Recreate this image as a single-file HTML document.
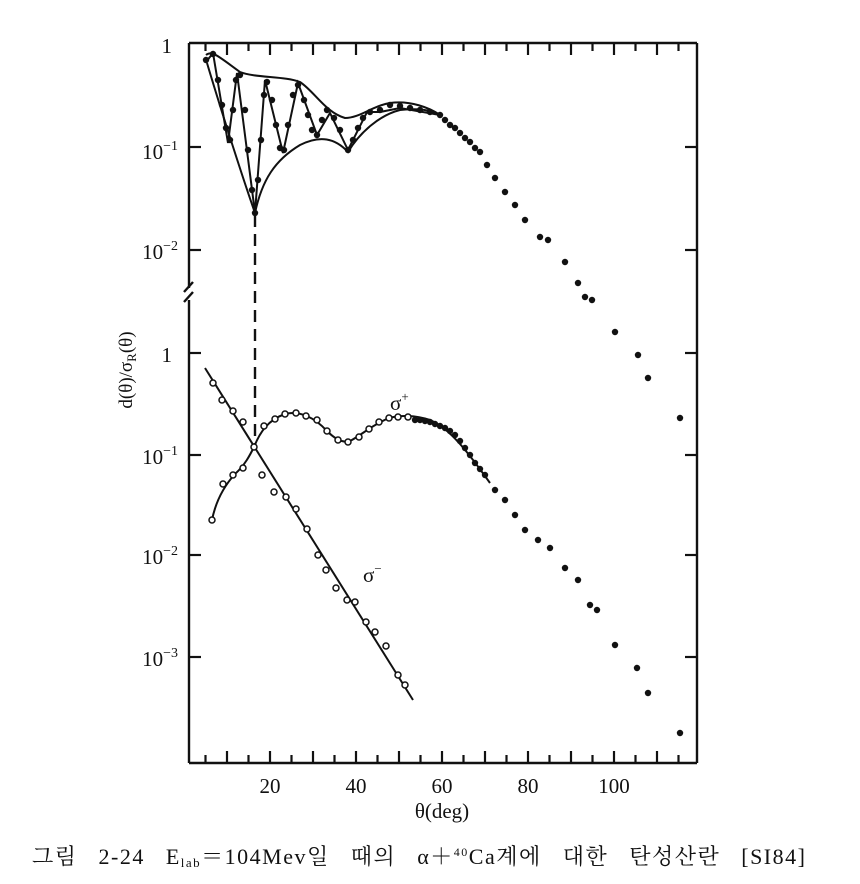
<!DOCTYPE html>
<html><head><meta charset="utf-8"><style>
html,body{margin:0;padding:0;background:#fff;}
svg{display:block;}
text{font-family:"Liberation Serif","Noto Serif CJK SC",serif;fill:#111;}
</style></head><body>
<svg id="s" width="860" height="884" viewBox="0 0 860 884" xmlns="http://www.w3.org/2000/svg">
<rect width="860" height="884" fill="#fff"/>
<g stroke="#111" stroke-width="2.4" fill="none">
<line x1="189" y1="43" x2="697" y2="43"/>
<line x1="189" y1="763" x2="697" y2="763"/>
<line x1="697" y1="43" x2="697" y2="763"/>
<line x1="189" y1="43" x2="189" y2="288"/>
<line x1="189" y1="300" x2="189" y2="763"/>
<line x1="184" y1="292" x2="193" y2="282"/>
<line x1="184" y1="302" x2="193" y2="292"/>
</g>
<g id="ticks" stroke="#111" stroke-width="2.2"></g>
<g font-size="21">
<text x="172" y="53" text-anchor="end">1</text>
<text x="178" y="159" text-anchor="end">10<tspan font-size="14" dy="-9">−1</tspan></text>
<text x="178" y="259" text-anchor="end">10<tspan font-size="14" dy="-9">−2</tspan></text>
<text x="172" y="362" text-anchor="end">1</text>
<text x="178" y="464" text-anchor="end">10<tspan font-size="14" dy="-9">−1</tspan></text>
<text x="178" y="564" text-anchor="end">10<tspan font-size="14" dy="-9">−2</tspan></text>
<text x="178" y="666" text-anchor="end">10<tspan font-size="14" dy="-9">−3</tspan></text>
<text x="270" y="793" text-anchor="middle">20</text>
<text x="356" y="793" text-anchor="middle">40</text>
<text x="442" y="793" text-anchor="middle">60</text>
<text x="528" y="793" text-anchor="middle">80</text>
<text x="614" y="793" text-anchor="middle">100</text>
<text x="442" y="818" text-anchor="middle">θ(deg)</text>
<text x="390" y="410" font-size="21">σ<tspan font-size="13" dy="-9">+</tspan></text>
<text x="363" y="582" font-size="21">σ<tspan font-size="13" dy="-9">−</tspan></text>
</g>
<text transform="translate(132,370) rotate(-90)" text-anchor="middle" font-family="Liberation Sans,sans-serif" font-size="19">d(θ)/σ<tspan font-size="13" dy="4">R</tspan><tspan dy="-4">(θ)</tspan></text>
<text x="32" y="864" font-family="Liberation Serif,'Noto Serif CJK KR',serif" font-size="22" letter-spacing="1.5" word-spacing="14">그림 2-24 E<tspan font-size="13" dy="3">lab</tspan><tspan dy="-3">＝104Mev일 때의 α＋</tspan><tspan font-size="12" dy="-8">40</tspan><tspan dy="8">Ca계에 대한 탄성산란 [SI84]</tspan></text>
<g id="curves" stroke="#111" stroke-width="2" fill="none">
<path d="M206,55 C212,50 218,56 240,72 C255,78 285,76 300,82 C315,92 325,112 345,118 C360,118 372,106 390,103 C410,100 430,108 440,115"/>
<path d="M207,63 C218,100 240,170 255,213"/>
<path d="M255,213 C262,180 275,160 300,145 C320,135 335,138 348,152 C360,132 380,115 400,110 C420,108 430,110 440,115"/>
<polyline points="206,62 213,53 228,143 237,73 255,213 265,80 283,153 298,83 317,135 330,113 348,150 367,112 380,112 400,108 440,115"/>
<line x1="255" y1="215" x2="255" y2="445" stroke-dasharray="12,7" stroke-width="2.4"/>
<line x1="205" y1="368" x2="413" y2="700"/>
<path d="M212,520 C216,500 225,485 235,474 C245,465 250,455 254,447 C260,432 268,420 285,414 C300,410 315,418 327,431 C336,440 344,443 350,441 C360,436 372,425 389,418 C400,415 415,415 430,420 C450,428 470,455 490,483"/>
</g>
<g id="dots"></g>
</svg>
<script>
var t=document.getElementById('ticks'),h='';
for(var th=5;th<=115;th+=5){var x=184+4.3*th,L=(th%10==0)?12:8;
h+='<line x1="'+x+'" y1="43" x2="'+x+'" y2="'+(43+L)+'"/>';
h+='<line x1="'+x+'" y1="763" x2="'+x+'" y2="'+(763-L)+'"/>';}
[147,250,353,455,555,657].forEach(function(y){h+='<line x1="189" y1="'+y+'" x2="201" y2="'+y+'"/><line x1="685" y1="'+y+'" x2="697" y2="'+y+'"/>';});
t.innerHTML=h;
var d='';
function f(p,r){p.forEach(function(q){d+='<circle cx="'+q[0]+'" cy="'+q[1]+'" r="'+r+'" fill="#111"/>';});}
function o(p){p.forEach(function(q){d+='<circle cx="'+q[0]+'" cy="'+q[1]+'" r="3" fill="#fff" stroke="#111" stroke-width="1.5"/>';});}
f([[206,60],[213,54],[218,80],[222,105],[226,128],[230,140],[233,110],[236,80],[240,75],[245,110],[248,150],[252,190],[255,213],[258,180],[261,140],[264,95],[267,82],[272,100],[276,125],[280,148],[284,150],[288,125],[293,95],[298,85],[304,100],[308,115],[312,130],[317,135],[322,120],[327,110],[334,118],[340,130],[348,150],[353,140],[358,128],[363,118],[370,112],[380,110],[390,105],[400,106],[410,108],[420,110],[430,112],[440,115],[445,120],[450,125],[455,128],[460,133],[465,138],[470,142],[475,148],[480,152],[487,165],[495,178],[505,192],[515,205],[525,220],[540,237],[548,240],[565,262],[578,283],[585,297],[592,300],[615,332],[638,355],[648,378],[680,418]],3.2);
f([[415,420],[420,420],[425,421],[430,422],[435,424],[440,426],[445,428],[450,431],[455,435],[460,441],[465,448],[470,455],[475,463],[480,469],[485,475],[495,490],[505,500],[515,515],[525,530],[538,540],[550,548],[565,568],[578,580],[590,605],[597,610],[615,645],[637,668],[648,693],[680,733]],3.2);
o([[213,383],[222,400],[233,411],[243,422],[254,447],[262,475],[274,492],[286,497],[296,509],[307,529],[318,555],[326,570],[336,588],[347,600],[355,602],[366,622],[375,632],[386,646],[398,675],[405,685]]);
o([[212,520],[223,484],[233,475],[243,468],[264,426],[275,419],[285,414],[296,413],[306,416],[317,420],[327,431],[338,440],[348,442],[359,437],[369,429],[379,422],[389,418],[398,417],[408,417]]);
document.getElementById('dots').innerHTML=d;
</script>
</body></html>
